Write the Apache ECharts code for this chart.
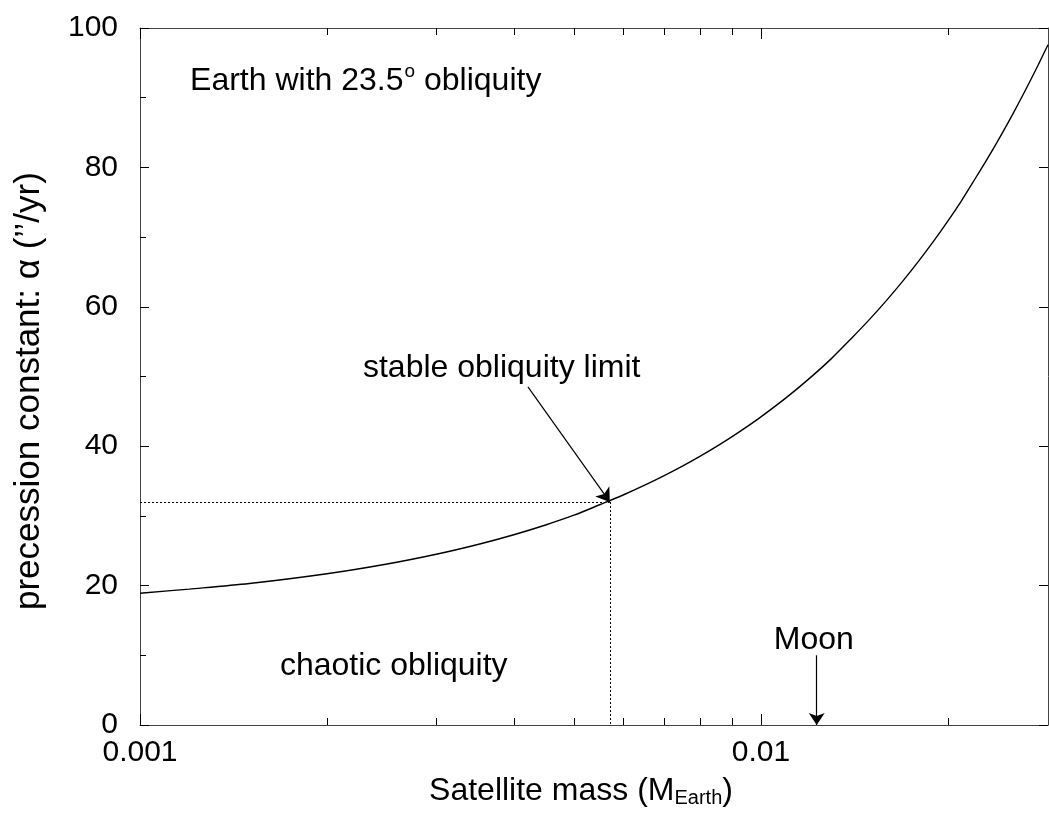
<!DOCTYPE html>
<html>
<head>
<meta charset="utf-8">
<script src="https://cdn.jsdelivr.net/npm/echarts@6/dist/echarts.min.js"></script>
<style>
  html, body { margin: 0; padding: 0; background: #fff; }
  #chart { width: 1049px; height: 815px; }
</style>
</head>
<body>
<div id="chart"></div>
<script>
// Satellite mass (in Earth masses) and the resulting precession constant (arcsec/yr)
const masses = [0.001, 0.0012, 0.0015, 0.002, 0.0025, 0.003, 0.0035, 0.004, 0.0045, 0.005, 0.0055,
                0.006, 0.0065, 0.007, 0.0075, 0.008, 0.0085, 0.009, 0.0095, 0.010, 0.011, 0.012,
                0.013, 0.014, 0.015, 0.016, 0.017, 0.018, 0.019, 0.020, 0.021, 0.022, 0.023,
                0.024, 0.025, 0.026, 0.027, 0.028, 0.029];
const alpha  = [18.9, 19.5, 20.3, 21.7, 23.1, 24.5, 25.9, 27.3, 28.7, 30.1, 31.6,
                33.0, 34.4, 35.8, 37.2, 38.6, 40.0, 41.4, 42.8, 44.2, 47.0, 49.8,
                52.6, 55.5, 58.3, 61.1, 63.9, 66.7, 69.5, 72.3, 75.1, 78.0, 80.8,
                83.6, 86.4, 89.2, 92.0, 94.8, 97.6];

// Axis ranges and ticks
const xMin = 0.001, xMax = 0.029;
const xMajorTicks = [0.001, 0.01];
const xMinorTicks = [0.002, 0.003, 0.004, 0.005, 0.006, 0.007, 0.008, 0.009, 0.02];
const yMin = 0, yMax = 100, yStep = 20;

// Stability limit and the Moon
const limitMass = 0.00571, limitAlpha = 32;
const moonMass = 0.0123;

const FONT = 'Liberation Sans, Arial, Helvetica, sans-serif';
const INK = '#000';
const AXIS = '#444';
const GRID = { left: 140, right: 1, top: 28, bottom: 90, containLabel: false };

const chart = echarts.init(document.getElementById('chart'), null, { renderer: 'canvas' });

function logX(extra) {
  return Object.assign({
    type: 'log', logBase: 10, min: xMin, max: xMax,
    splitLine: { show: false }, axisLabel: { show: false },
    axisLine: { show: false }, axisTick: { show: false }
  }, extra);
}

const majorTick = { show: true, inside: true, length: 11, customValues: xMajorTicks, lineStyle: { color: INK } };
const minorTick = { show: true, inside: true, length: 7, customValues: xMinorTicks, lineStyle: { color: INK } };
const frameLine = { show: true, onZero: false, lineStyle: { color: AXIS, width: 1 } };

const option = {
  animation: false,
  backgroundColor: '#fff',
  // grid 0 carries the curve and major ticks, grid 1 (same rectangle) the minor x ticks
  grid: [Object.assign({}, GRID), Object.assign({}, GRID)],
  xAxis: [
    logX({
      gridIndex: 0, position: 'bottom',
      name: '{t|Satellite mass (M}{s|Earth}{t|)}',
      nameLocation: 'middle', nameGap: 37,
      nameTextStyle: {
        padding: [0, 26, 0, 0],
        rich: {
          t: { fontFamily: FONT, fontSize: 32, color: INK, lineHeight: 38 },
          s: { fontFamily: FONT, fontSize: 20, color: INK, padding: [16, 0, 0, 0], lineHeight: 38 }
        }
      },
      axisLine: frameLine,
      axisTick: majorTick,
      axisLabel: { show: true, customValues: xMajorTicks, margin: 13, fontFamily: FONT, fontSize: 30, color: INK,
                   formatter: v => String(+v.toPrecision(3)) }
    }),
    logX({ gridIndex: 0, position: 'top', axisLine: frameLine, axisTick: majorTick }),
    logX({ gridIndex: 1, position: 'bottom', axisTick: minorTick }),
    logX({ gridIndex: 1, position: 'top', axisTick: minorTick })
  ],
  yAxis: [
    {
      gridIndex: 0, type: 'value', min: yMin, max: yMax, interval: yStep, position: 'left',
      splitLine: { show: false },
      axisLine: frameLine,
      axisTick: { show: true, inside: true, length: 9, lineStyle: { color: INK } },
      minorTick: { show: true, splitNumber: 2, length: 6, lineStyle: { color: INK } },
      axisLabel: { margin: 22, fontFamily: FONT, fontSize: 30, color: INK }
    },
    {
      gridIndex: 0, type: 'value', min: yMin, max: yMax, interval: yStep, position: 'right',
      splitLine: { show: false },
      axisLine: frameLine,
      axisTick: { show: true, inside: true, length: 9, lineStyle: { color: INK } },
      axisLabel: { show: false }
    },
    {
      gridIndex: 1, type: 'value', min: yMin, max: yMax, show: false
    }
  ],
  graphic: [
    {
      // vertical axis title, read from bottom to top
      type: 'text', x: 29, y: 610,
      rotation: Math.PI / 2,
      style: {
        text: "precession constant: \u03b1 (\u2019\u2019/yr)",
        font: '35px ' + FONT, fill: INK,
        align: 'left', verticalAlign: 'middle'
      }
    }
  ],
  series: [
    {
      name: 'alpha',
      type: 'line',
      xAxisIndex: 0, yAxisIndex: 0,
      data: masses.map((m, i) => [m, alpha[i]]),
      showSymbol: false, symbol: 'none',
      smooth: 0.3,
      lineStyle: { color: INK, width: 1.4 },
      silent: true,
      markLine: {
        silent: true,
        symbol: ['none', 'none'],
        label: { show: false },
        lineStyle: { color: INK, width: 1, type: [2, 2] },
        data: [
          [{ coord: [xMin, limitAlpha] }, { coord: [limitMass, limitAlpha] }],
          [{ coord: [limitMass, limitAlpha] }, { coord: [limitMass, 0] }],
          [{ coord: [0.004215, 48.5], symbol: 'none', lineStyle: { type: 'solid', width: 1.2 } },
           { coord: [limitMass, limitAlpha], symbol: 'arrow', symbolSize: 13, lineStyle: { type: 'solid', width: 1.2 } }],
          [{ coord: [moonMass, 10], symbol: 'none', lineStyle: { type: 'solid', width: 1.2 } },
           { coord: [moonMass, 0], symbol: 'arrow', symbolSize: 12, lineStyle: { type: 'solid', width: 1.2 } }]
        ]
      },
      markPoint: {
        silent: true,
        symbol: 'circle', symbolSize: 0,
        label: { show: true, position: 'inside', fontFamily: FONT, fontSize: 32, color: INK },
        data: [
          {
            coord: [0.001204, 92.3],
            label: {
              align: 'left',
              formatter: '{a|Earth with 23.5}{o|o}{a| obliquity}',
              rich: {
                a: { fontFamily: FONT, fontSize: 32, color: INK, lineHeight: 40 },
                o: { fontFamily: FONT, fontSize: 19, color: INK, lineHeight: 40, padding: [0, 0, 20, 1] }
              }
            }
          },
          { coord: [0.002286, 51.2], label: { align: 'left', formatter: 'stable obliquity limit' } },
          { coord: [0.00168, 8.5], label: { align: 'left', formatter: 'chaotic obliquity' } },
          { coord: [0.01217, 12.2], label: { align: 'center', formatter: 'Moon' } }
        ]
      }
    }
  ]
};

chart.setOption(option);
</script>
</body>
</html>
